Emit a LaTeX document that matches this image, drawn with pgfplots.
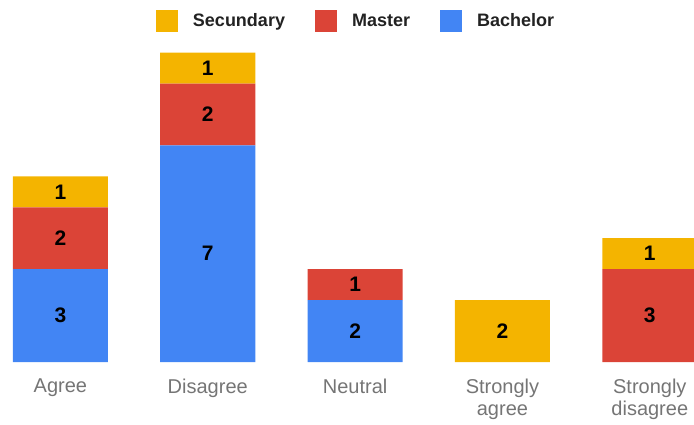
\documentclass[border=0pt]{standalone}
\usepackage{pgfplots}
\pgfplotsset{compat=1.18}
\usepackage{fontspec}
\setmainfont{Liberation Sans}
\definecolor{cY}{HTML}{F4B400}
\definecolor{cR}{HTML}{DB4437}
\definecolor{cB}{HTML}{4285F4}
\definecolor{tickgray}{HTML}{757575}
\definecolor{leggray}{HTML}{222222}
\pgfplotsset{
  base/.style={
    scale only axis, width=694pt, height=362pt,
    at={(0pt,0pt)}, anchor=south west,
    xmin=-0.41, xmax=4.30, ymin=0, ymax=11.7,
  }
}
\begin{document}
\begin{tikzpicture}
\begin{axis}[base,
  ybar stacked, bar width=0.645,
  separate axis lines,
  axis line style={draw=none},
  ytick=\empty,
  xtick={0,1,2,3,4},
  major tick length=0pt,
  xticklabels={Agree,Disagree,Neutral,{Strongly\\agree},{Strongly\\disagree}},
  xticklabel style={align=center, font=\fontsize{20}{22}\selectfont, text=tickgray, yshift=-13pt},
  legend columns=3,
  legend image code/.code={\path[#1] (0pt,-11pt) rectangle (22pt,11pt);},
  legend style={draw=none, fill=none, at={(0.513,0.942)}, anchor=center,
    font=\bfseries\fontsize{18}{22}\selectfont, text=leggray,
    /tikz/every odd column/.append style={column sep=13pt},
    /tikz/every even column/.append style={column sep=28pt},
    nodes={inner xsep=2pt}},
]
\addlegendimage{fill=cY, draw=none}
\addlegendentry{Secundary}
\addlegendimage{fill=cR, draw=none}
\addlegendentry{Master}
\addlegendimage{fill=cB, draw=none}
\addlegendentry{Bachelor}
% Bachelor
\addplot[fill=cB, draw=none] coordinates {(0,3) (1,7) (2,2) (3,0) (4,0)};
% Master
\addplot[fill=cR, draw=none] coordinates {(0,2) (1,2) (2,1) (3,0) (4,3)};
% Secundary
\addplot[fill=cY, draw=none] coordinates {(0,1) (1,1) (2,0) (3,2) (4,1)};
\end{axis}
\begin{axis}[base, hide axis]
\addplot[only marks, mark=none, draw=none,
  nodes near coords, point meta=explicit symbolic,
  nodes near coords align=center,
  every node near coord/.append style={font=\bfseries\fontsize{21}{22}\selectfont, text=black, anchor=center}]
  table[meta=label] {
x y label
0 1.5 3
0 4 2
0 5.5 1
1 3.5 7
1 8 2
1 9.5 1
2 1 2
2 2.5 1
3 1 2
4 1.5 3
4 3.5 1
};
\end{axis}
\pgfresetboundingbox
\path[use as bounding box] (0pt,-62pt) rectangle (694pt,362pt);
\end{tikzpicture}
\end{document}
